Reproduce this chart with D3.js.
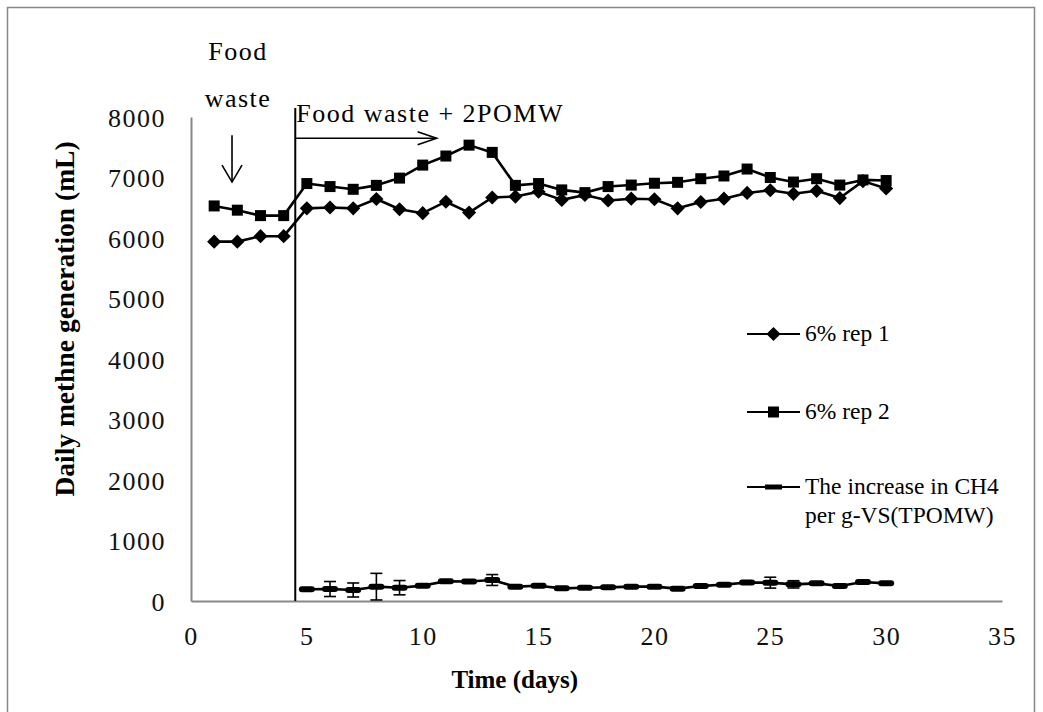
<!DOCTYPE html>
<html>
<head>
<meta charset="utf-8">
<script src="https://cdn.jsdelivr.net/npm/d3@7"></script>
<style>
  html, body { margin: 0; padding: 0; background: #fff; }
  svg { display: block; }
</style>
</head>
<body>
<svg id="chart" width="1043" height="712"></svg>
<script>
// Days of the run
const days = d3.range(1, 31);

// Daily methane volume (mL), replicate 1 (diamonds)
const rep1 = [5940, 5940, 6030, 6030, 6490, 6505, 6490, 6645, 6475, 6410,
              6600, 6420, 6670, 6685, 6765, 6630, 6710, 6620, 6650, 6640,
              6490, 6595, 6650, 6745, 6790, 6730, 6780, 6660, 6940, 6820];

// Daily methane volume (mL), replicate 2 (squares)
const rep2 = [6530, 6460, 6370, 6370, 6900, 6850, 6805, 6870, 6990, 7205,
              7355, 7535, 7415, 6870, 6900, 6795, 6750, 6850, 6875, 6905,
              6920, 6980, 7025, 7140, 7000, 6925, 6980, 6875, 6960, 6950];

// Increase in CH4 per g-VS of TPOMW, from day 5 on, with error half-widths
const incDays = d3.range(5, 31);
const incValues = [193, 198, 182, 237, 220, 254, 325, 322, 347, 237,
                   253, 209, 220, 226, 237, 237, 204, 248, 270, 306,
                   303, 275, 292, 248, 314, 292];
const incErrors = [0, 124, 116, 220, 118, 0, 0, 0, 90, 0,
                   0, 0, 0, 0, 0, 0, 0, 0, 0, 0,
                   90, 60, 0, 0, 0, 0];

const xTicks = [0, 5, 10, 15, 20, 25, 30, 35];
const yTicks = [0, 1000, 2000, 3000, 4000, 5000, 6000, 7000, 8000];

const legendLabels = ["6% rep 1", "6% rep 2", ["The increase in CH4", "per g-VS(TPOMW)"]];

const svg = d3.select("#chart");
const x = d3.scaleLinear().domain([0, 35]).range([191, 1002]);
const y = d3.scaleLinear().domain([0, 8000]).range([601, 117]);

const grey = "#878787";
const serif = "'Liberation Serif', 'Times New Roman', serif";
const wideSpacing = 1.5;   // looser tracking for the tick labels and notes

// Outer frame of the chart area
svg.append("rect")
  .attr("x", 7.5).attr("y", 7.5)
  .attr("width", 1027).attr("height", 720)
  .attr("fill", "none").attr("stroke", grey).attr("stroke-width", 1.5);

// Axes (lines only, no tick marks)
const xAxis = svg.append("g").attr("transform", `translate(0,${y(0)})`)
  .call(d3.axisBottom(x).tickValues(xTicks).tickSize(0).tickPadding(0).tickFormat(d3.format("d")));
xAxis.select(".domain").attr("stroke", grey).attr("stroke-width", 2);
xAxis.selectAll("text")
  .attr("font-family", serif).attr("font-size", 26).attr("fill", "#111")
  .attr("letter-spacing", wideSpacing)
  .attr("dy", null).attr("y", 44);

const yAxis = svg.append("g").attr("transform", `translate(${x(0)},0)`)
  .call(d3.axisLeft(y).tickValues(yTicks).tickSize(0).tickPadding(0).tickFormat(d3.format("d")));
yAxis.select(".domain").attr("stroke", grey).attr("stroke-width", 2);
yAxis.selectAll("text")
  .attr("font-family", serif).attr("font-size", 26).attr("fill", "#111")
  .attr("letter-spacing", wideSpacing)
  .attr("x", -25).attr("dy", "0.35em");

// Axis titles
svg.append("text")
  .attr("x", 578).attr("y", 688)
  .attr("text-anchor", "end")
  .attr("font-family", serif).attr("font-weight", "bold").attr("font-size", 25)
  .text("Time (days)");

svg.append("text")
  .attr("transform", "translate(74,319) rotate(-90)")
  .attr("text-anchor", "middle")
  .attr("font-family", serif).attr("font-weight", "bold").attr("font-size", 27.5)
  .text("Daily methne generation (mL)");

// Feed-change marker: vertical line at the switch and arrow to the right
svg.append("line")
  .attr("x1", x(4.5)).attr("x2", x(4.5))
  .attr("y1", y(0)).attr("y2", y(8150))
  .attr("stroke", "#000").attr("stroke-width", 2);

const arrowY = y(7650);
svg.append("line")
  .attr("x1", x(4.5)).attr("x2", x(10.6))
  .attr("y1", arrowY).attr("y2", arrowY)
  .attr("stroke", "#000").attr("stroke-width", 1.6);
svg.append("path")
  .attr("d", `M${x(10.6) - 19},${arrowY - 6.5} L${x(10.6)},${arrowY} L${x(10.6) - 19},${arrowY + 6.5}`)
  .attr("fill", "none").attr("stroke", "#000").attr("stroke-width", 1.6);

svg.append("text")
  .attr("x", x(4.5) + 1).attr("y", 122)
  .attr("font-family", serif).attr("font-size", 26)
  .attr("letter-spacing", wideSpacing)
  .text("Food waste + 2POMW");

// Initial feed marker: downward arrow
const dx = x(1.77);
svg.append("line")
  .attr("x1", dx).attr("x2", dx)
  .attr("y1", y(7700)).attr("y2", y(6925))
  .attr("stroke", "#000").attr("stroke-width", 1.6);
svg.append("path")
  .attr("d", `M${dx - 10},${y(6925) - 17} L${dx},${y(6925)} L${dx + 10},${y(6925) - 17}`)
  .attr("fill", "none").attr("stroke", "#000").attr("stroke-width", 1.6);

svg.append("text")
  .attr("x", 238).attr("y", 60).attr("text-anchor", "middle")
  .attr("font-family", serif).attr("font-size", 26)
  .attr("letter-spacing", wideSpacing)
  .text("Food");
svg.append("text")
  .attr("x", 238).attr("y", 107).attr("text-anchor", "middle")
  .attr("font-family", serif).attr("font-size", 26)
  .attr("letter-spacing", wideSpacing)
  .text("waste");

// Series lines
const line = d3.line().x(d => x(d[0])).y(d => y(d[1]));

const rep1Pts = days.map((d, i) => [d, rep1[i]]);
const rep2Pts = days.map((d, i) => [d, rep2[i]]);
const incPts = incDays.map((d, i) => [d, incValues[i], incErrors[i]]);

// Error bars on the increase series
const eb = svg.append("g").attr("stroke", "#000").attr("stroke-width", 1.6);
incPts.filter(p => p[2] > 0).forEach(p => {
  const cx = x(p[0]);
  const top = y(p[1] + p[2]), bot = y(p[1] - p[2]);
  eb.append("line").attr("x1", cx).attr("x2", cx).attr("y1", top).attr("y2", bot);
  eb.append("line").attr("x1", cx - 6).attr("x2", cx + 6).attr("y1", top).attr("y2", top);
  eb.append("line").attr("x1", cx - 6).attr("x2", cx + 6).attr("y1", bot).attr("y2", bot);
});

[rep2Pts, rep1Pts, incPts].forEach(pts => {
  svg.append("path").datum(pts)
    .attr("d", line)
    .attr("fill", "none").attr("stroke", "#000").attr("stroke-width", 2.6)
    .attr("stroke-linejoin", "round");
});

const diamond = d3.symbol().type(d3.symbolSquare).size(100);

// Diamonds for rep 1
svg.append("g").selectAll("path").data(rep1Pts).join("path")
  .attr("d", diamond)
  .attr("transform", d => `translate(${x(d[0])},${y(d[1])}) rotate(45)`)
  .attr("fill", "#000");

// Squares for rep 2
svg.append("g").selectAll("rect").data(rep2Pts).join("rect")
  .attr("x", d => x(d[0]) - 5.5).attr("y", d => y(d[1]) - 5.5)
  .attr("width", 11).attr("height", 11)
  .attr("fill", "#000");

// Dashes for the increase series
svg.append("g").selectAll("rect").data(incPts).join("rect")
  .attr("x", d => x(d[0]) - 8).attr("y", d => y(d[1]) - 3)
  .attr("width", 16).attr("height", 6).attr("rx", 3)
  .attr("fill", "#000");

// Legend
const legend = svg.append("g").attr("font-family", serif).attr("font-size", 23.5);
const legendY = [334, 412, 487];
legendY.forEach((ly, i) => {
  legend.append("line")
    .attr("x1", 747).attr("x2", 800).attr("y1", ly).attr("y2", ly)
    .attr("stroke", "#000").attr("stroke-width", 2.2);
  if (i === 0) {
    legend.append("path").attr("d", diamond)
      .attr("transform", `translate(773.5,${ly}) rotate(45)`).attr("fill", "#000");
  } else if (i === 1) {
    legend.append("rect").attr("x", 768).attr("y", ly - 5.5)
      .attr("width", 11).attr("height", 11).attr("fill", "#000");
  } else {
    legend.append("rect").attr("x", 765).attr("y", ly - 2.5)
      .attr("width", 17).attr("height", 5).attr("fill", "#000");
  }
  const lab = legendLabels[i];
  const lines = Array.isArray(lab) ? lab : [lab];
  lines.forEach((t, j) => {
    legend.append("text")
      .attr("x", 805).attr("y", ly + 7 + j * 29)
      .attr("fill", "#000")
      .text(t);
  });
});
</script>
</body>
</html>
